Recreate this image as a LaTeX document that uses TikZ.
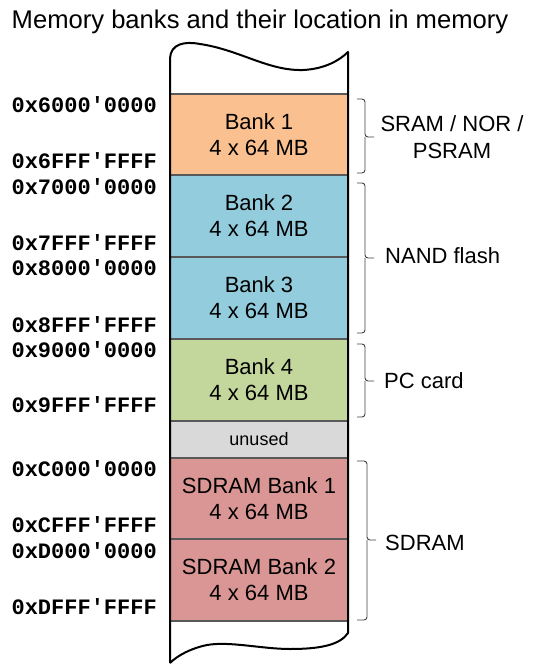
\documentclass[tikz,border=0pt]{standalone}
\usepackage{fontspec}
\setmainfont{Liberation Sans}
\setmonofont{Liberation Mono}
\begin{document}
\begin{tikzpicture}[x=1pt,y=-1pt,
  bank/.style={draw=black!65, line width=1.2pt, minimum width=178pt, inner sep=0pt, align=center,
     font=\fontsize{22pt}{26pt}\selectfont},
  addr/.style={anchor=east, inner sep=0pt, font=\fontsize{22pt}{26pt}\selectfont\ttfamily\bfseries},
  side/.style={inner sep=0pt, align=center, font=\fontsize{22pt}{27pt}\selectfont},
  bracel/.style={draw=black!75, line width=0.9pt, rounded corners=3pt},
  column/.style={draw=black, line width=2pt}
]
\useasboundingbox (0,0) rectangle (536,671);
% title
\node[inner sep=0pt, font=\fontsize{25.6pt}{30pt}\selectfont] (title) at (260,22) {Memory banks and their location in memory};
% column background
\fill[white] (170,663) -- (170,58) .. controls (171,44) and (184,41) .. (200,44)
  .. controls (240,50) and (268,71) .. (303,70) .. controls (325,69) and (340,60) .. (348,52)
  -- (348,633) .. controls (340,645) and (320,649) .. (290,649)
  .. controls (262,649) and (230,641) .. (207,645) .. controls (192,648) and (178,655) .. (170,663) -- cycle;
% banks
\node[bank, fill={rgb,255:red,250;green,192;blue,144}, minimum height=81pt] (b1) at (259,134.5) {Bank 1\\4 x 64 MB};
\node[bank, fill={rgb,255:red,147;green,205;blue,221}, minimum height=82pt] (b2) at (259,216) {Bank 2\\4 x 64 MB};
\node[bank, fill={rgb,255:red,147;green,205;blue,221}, minimum height=82pt] (b3) at (259,298) {Bank 3\\4 x 64 MB};
\node[bank, fill={rgb,255:red,195;green,214;blue,155}, minimum height=82pt] (b4) at (259,380) {Bank 4\\4 x 64 MB};
\node[bank, fill={rgb,255:red,217;green,217;blue,217}, minimum height=37pt, font=\fontsize{18pt}{22pt}\selectfont] (un) at (259,439.5) {unused};
\node[bank, fill={rgb,255:red,218;green,150;blue,148}, minimum height=81pt] (s1) at (259,498.5) {SDRAM Bank 1\\4 x 64 MB};
\node[bank, fill={rgb,255:red,218;green,150;blue,148}, minimum height=82pt] (s2) at (259,580) {SDRAM Bank 2\\4 x 64 MB};
% column outline
\draw[column, line join=round] (170,663) -- (170,58) .. controls (171,44) and (184,41) .. (200,44)
  .. controls (240,50) and (268,71) .. (303,70) .. controls (325,69) and (340,60) .. (348,52)
  -- (348,633) .. controls (340,645) and (320,649) .. (290,649)
  .. controls (262,649) and (230,641) .. (207,645) .. controls (192,648) and (178,655) .. (170,663);
% addresses
\node[addr] (a1) at (157,105) {0x6000'0000};
\node[addr] (a2) at (157,161) {0x6FFF'FFFF};
\node[addr] (a3) at (157,187) {0x7000'0000};
\node[addr] (a4) at (157,243) {0x7FFF'FFFF};
\node[addr] (a5) at (157,268) {0x8000'0000};
\node[addr] (a6) at (157,325) {0x8FFF'FFFF};
\node[addr] (a7) at (157,350) {0x9000'0000};
\node[addr] (a8) at (157,405) {0x9FFF'FFFF};
\node[addr] (a9) at (157,469) {0xC000'0000};
\node[addr] (a10) at (157,525) {0xCFFF'FFFF};
\node[addr] (a11) at (157,551) {0xD000'0000};
\node[addr] (a12) at (157,607) {0xDFFF'FFFF};
% braces
\draw[bracel] (357,99) -- (365,99) -- (365,137) -- (374,137);
\draw[bracel] (357,173) -- (365,173) -- (365,137);
\draw[bracel] (357,183) -- (365,183) -- (365,258) -- (374,258);
\draw[bracel] (357,333) -- (365,333) -- (365,258);
\draw[bracel] (357,344) -- (365,344) -- (365,381) -- (374,381);
\draw[bracel] (357,417) -- (365,417) -- (365,381);
\draw[bracel] (357,461) -- (367,461) -- (367,540) -- (376,540);
\draw[bracel] (357,620) -- (367,620) -- (367,540);
% side labels
\node[side] (l1) at (452,137) {SRAM / NOR /\\PSRAM};
\node[side, anchor=west] (l2) at (385,256) {NAND flash};
\node[side, anchor=west] (l3) at (384,381) {PC card};
\node[side, anchor=west] (l4) at (385,543) {SDRAM};
\end{tikzpicture}
\end{document}
